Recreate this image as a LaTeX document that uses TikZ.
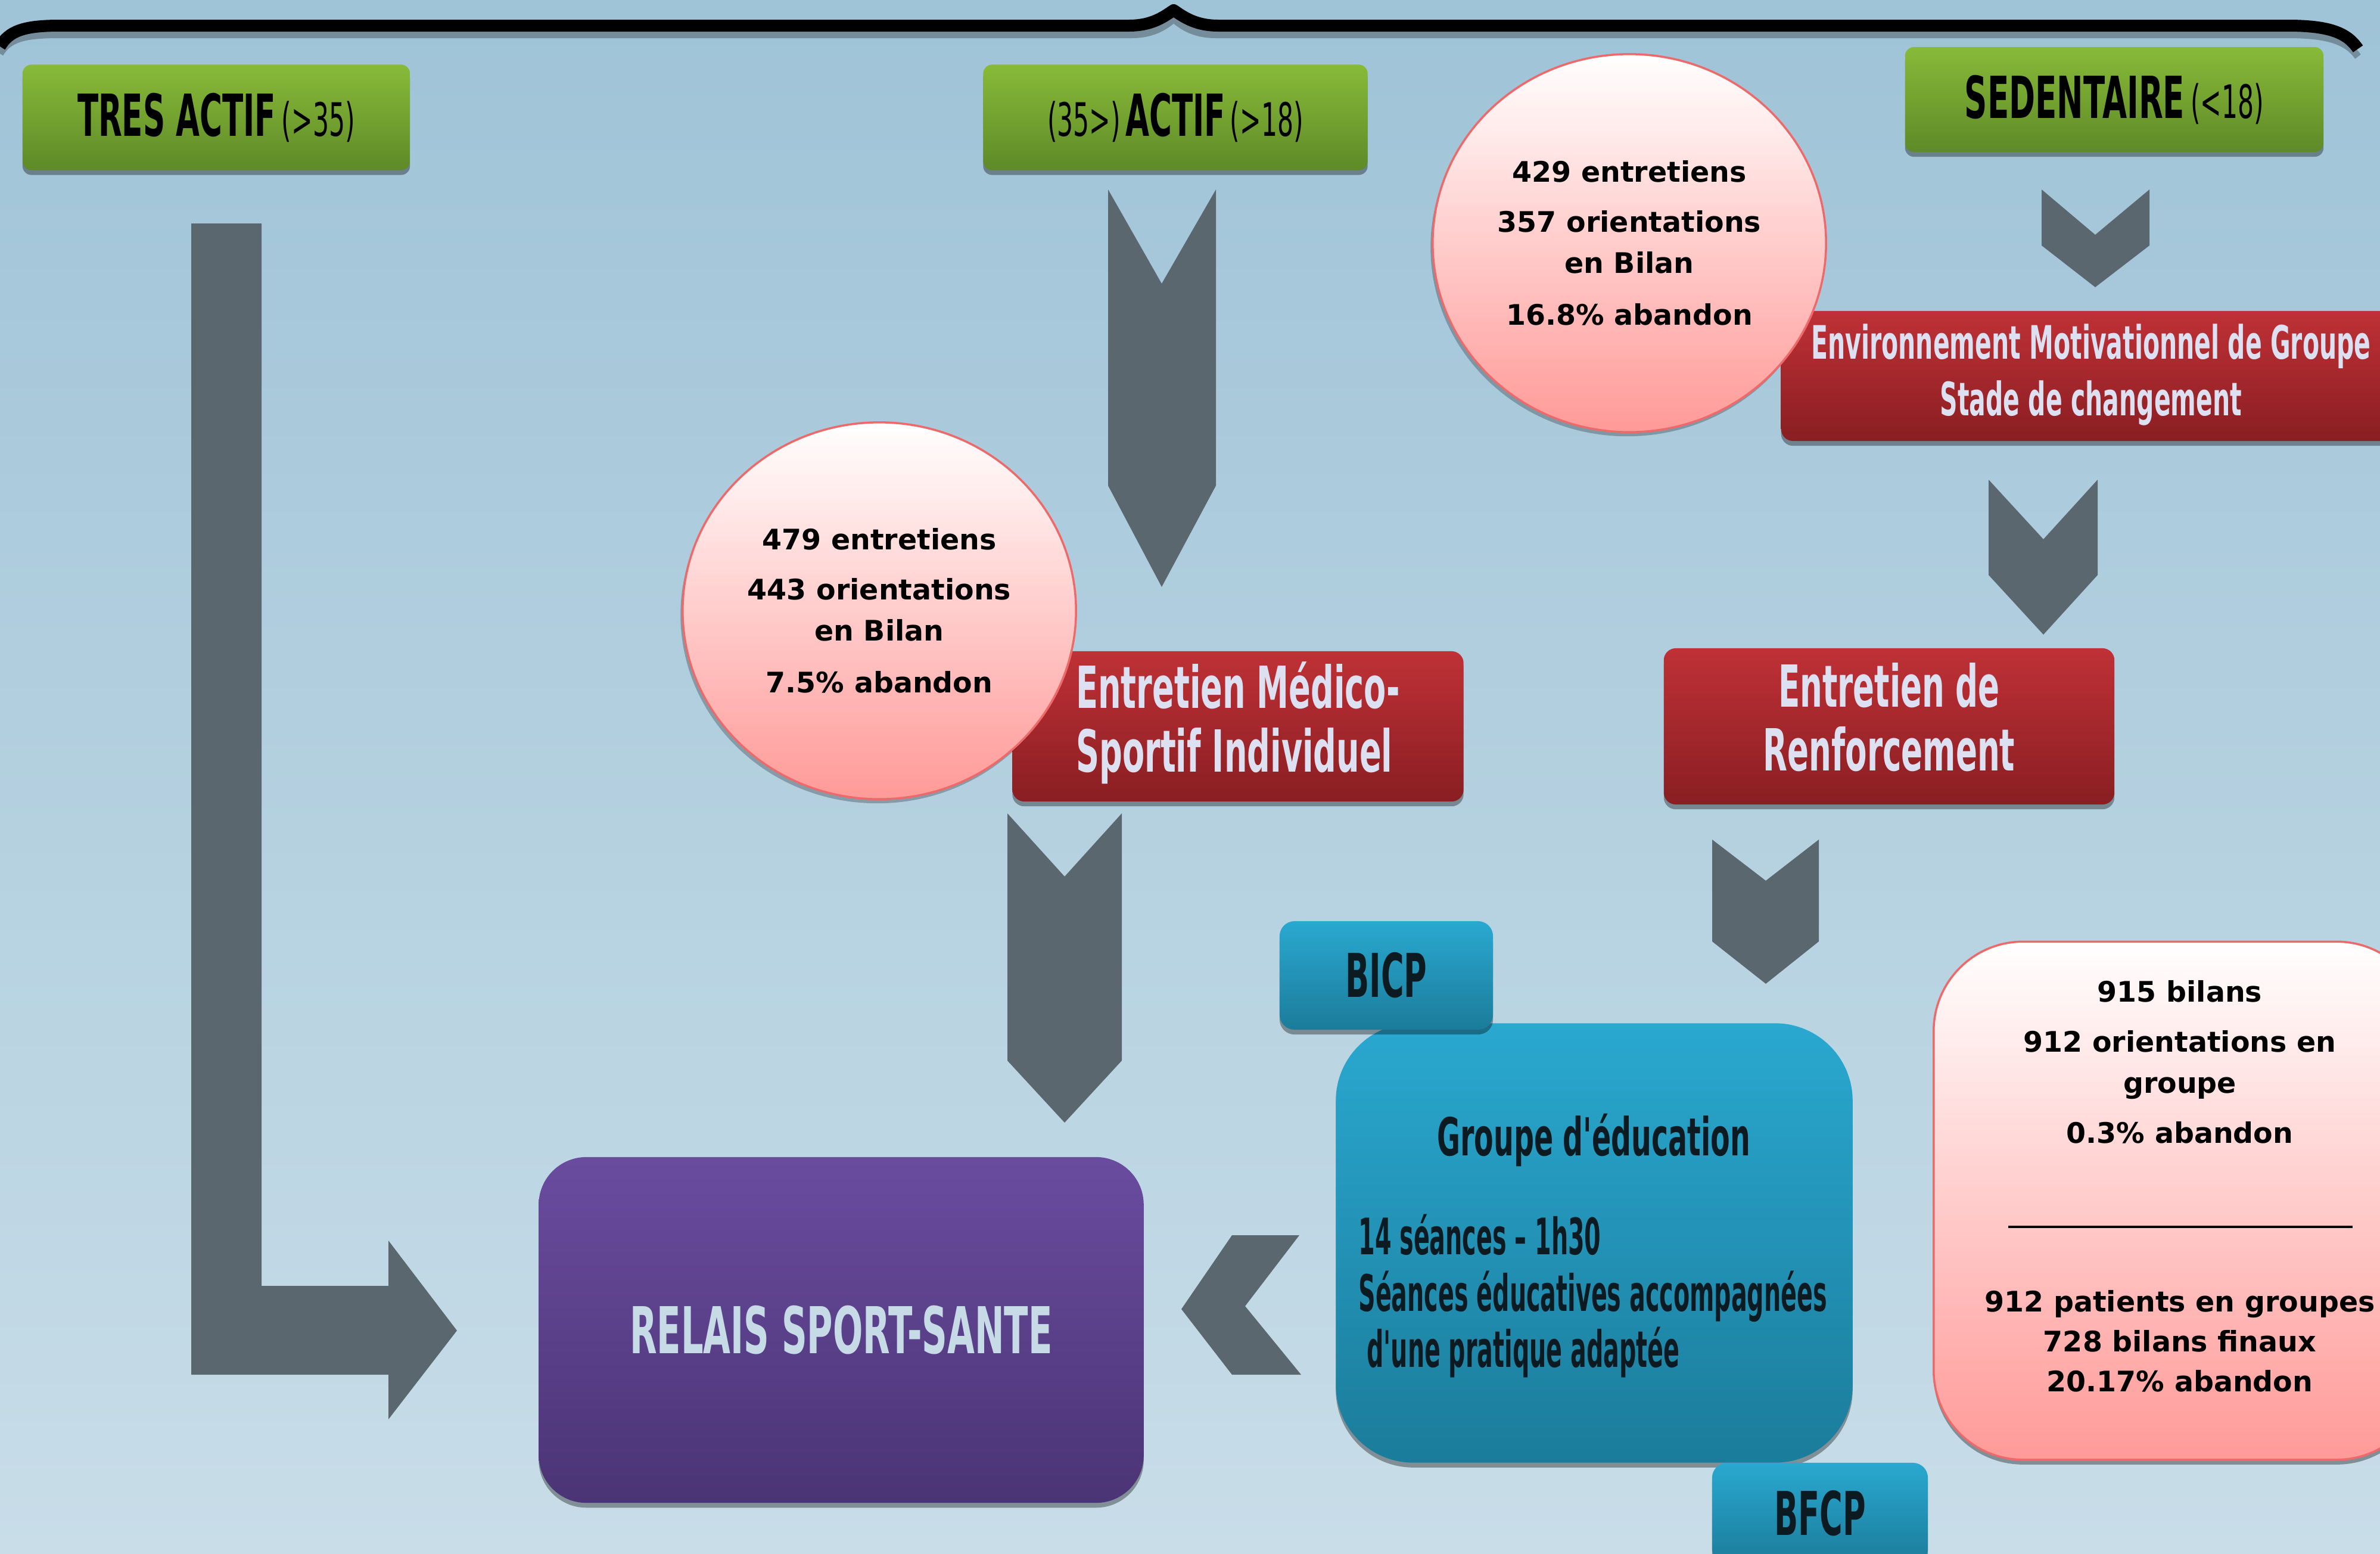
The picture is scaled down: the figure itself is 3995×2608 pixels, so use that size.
\documentclass[tikz,border=0pt]{standalone}
\usepackage{fontspec}
\usepackage{graphicx}
\setmainfont{DejaVu Sans}
\usetikzlibrary{shapes.geometric,shadows}
\definecolor{bgtop}{HTML}{9FC3D7}
\definecolor{bgbot}{HTML}{C8DDE8}
\definecolor{grtop}{HTML}{88BA38}
\definecolor{grbot}{HTML}{5E8A28}
\definecolor{rdtop}{HTML}{BF3136}
\definecolor{rdbot}{HTML}{891E22}
\definecolor{bltop}{HTML}{2AA8D0}
\definecolor{blbot}{HTML}{1B7C9B}
\definecolor{pptop}{HTML}{6A4C9F}
\definecolor{ppbot}{HTML}{4B3475}
\definecolor{pkbot}{HTML}{FF9A98}
\definecolor{pkline}{HTML}{EE6A6A}
\definecolor{arrc}{HTML}{5A676F}
\definecolor{lavtxt}{HTML}{DDE0F0}
\definecolor{pptxt}{HTML}{C6DBE6}
\definecolor{darktxt}{HTML}{0C1A22}
\definecolor{braceshadow}{HTML}{6B7F8B}
\newcommand{\cnd}[4]{\scalebox{#3}[1]{\fontsize{#1}{#2}\selectfont\bfseries #4}}
\newcommand{\cnm}[4]{\scalebox{#3}[1]{\fontsize{#1}{#2}\selectfont #4}}
\tikzset{
  shd/.style={drop shadow={shadow xshift=0pt,shadow yshift=-2.3pt,opacity=.35,fill=black}},
  greenbox/.style={shd,rectangle,rounded corners=0.15cm,top color=grtop,bottom color=grbot,inner sep=0pt,text=black},
  redbox/.style={shd,rectangle,rounded corners=0.2cm,top color=rdtop,bottom color=rdbot,inner sep=0pt,text=lavtxt},
  bluebox/.style={shd,rectangle,rounded corners=0.25cm,top color=bltop,bottom color=blbot,inner sep=0pt,text=darktxt},
  pinkcirc/.style={drop shadow={shadow xshift=-1pt,shadow yshift=-2pt,opacity=.25,fill=black},ellipse,inner sep=0pt,top color=white,bottom color=pkbot,draw=pkline,line width=1pt,text=black,align=center,font=\fontsize{13.5}{19.6}\selectfont\bfseries},
  pinktxt/.style={align=center,text=black,font=\fontsize{13.5}{19.6}\selectfont\bfseries},
  arrowshape/.style={fill=arrc},
}
\begin{document}
\begin{tikzpicture}[x=0.01cm,y=-0.01cm]
\useasboundingbox (0,0) rectangle (3995,2608);
% background
\fill[top color=bgtop,bottom color=bgbot] (0,0) rectangle (3995,2608);
% brace
\draw[braceshadow,line width=0.12cm,opacity=.8] (0,90) .. controls (15,65) and (40,58) .. (100,58) -- (1900,58) .. controls (1940,58) and (1960,40) .. (1970,32) .. controls (1980,40) and (2000,58) .. (2040,58) -- (3840,58) .. controls (3910,58) and (3940,70) .. (3958,95);
\draw[black,line width=0.2cm,line join=round] (0,78) .. controls (15,52) and (40,43) .. (100,43) -- (1895,43) .. controls (1935,43) and (1955,27) .. (1970,17) .. controls (1985,27) and (2005,43) .. (2045,43) -- (3840,43) .. controls (3910,43) and (3940,55) .. (3958,82);
% arrows
\fill[arrowshape] (321,375) -- (439,375) -- (439,2158) -- (652,2158) -- (652,2082) -- (767,2233) -- (652,2382) -- (652,2307) -- (321,2307) -- cycle;
\fill[arrowshape] (1860,318) -- (1950,476) -- (2041,318) -- (2041,815) -- (1950,985) -- (1860,815) -- cycle;
\fill[arrowshape] (3427,318) -- (3517,394) -- (3608,318) -- (3608,412) -- (3517,482) -- (3427,412) -- cycle;
\fill[arrowshape] (3338,805) -- (3430,905) -- (3521,805) -- (3521,965) -- (3430,1065) -- (3338,965) -- cycle;
\fill[arrowshape] (1691,1365) -- (1787,1471) -- (1883,1365) -- (1883,1780) -- (1787,1884) -- (1691,1780) -- cycle;
\fill[arrowshape] (2874,1409) -- (2964,1478) -- (3053,1409) -- (3053,1580) -- (2964,1651) -- (2874,1580) -- cycle;
\fill[arrowshape] (1983,2197) -- (2068,2073) -- (2181,2073) -- (2090,2192) -- (2184,2307) -- (2068,2307) -- cycle;
% green boxes
\node[greenbox,minimum width=6.5cm,minimum height=1.77cm] (tres) at (363,197)
  {\cnd{27.7}{30}{0.53}{TRES ACTIF}\hspace{0.1cm}\cnm{22}{24}{0.55}{(>35)}};
\node[greenbox,minimum width=6.45cm,minimum height=1.77cm] (actif) at (1973,197)
  {\cnm{22}{24}{0.55}{(35>)}\hspace{0.08cm}\cnd{27.7}{30}{0.53}{ACTIF}\hspace{0.08cm}\cnm{22}{24}{0.55}{(>18)}};
\node[greenbox,minimum width=7.02cm,minimum height=1.76cm] (sed) at (3549,167)
  {\raisebox{-0.05cm}{\cnd{27.7}{30}{0.545}{SEDENTAIRE}\hspace{0.1cm}\cnm{22}{24}{0.55}{(<18)}}};
% red boxes
\node[redbox,minimum width=10.4cm,minimum height=2.18cm] (env) at (3510,631)
  {\cnd{22}{27}{0.53}{\begin{tabular}{@{}c@{}}Environnement Motivationnel de Groupe\\Stade de changement\end{tabular}}};
\node[redbox,minimum width=7.57cm,minimum height=2.52cm] (ems) at (2078,1219)
  {\cnd{27.7}{30.4}{0.556}{\begin{tabular}{@{}l@{}}Entretien Médico-\\Sportif Individuel\end{tabular}}};
\node[redbox,minimum width=7.56cm,minimum height=2.62cm] (renf) at (3171,1219)
  {\cnd{27.7}{30.4}{0.545}{\begin{tabular}{@{}c@{}}Entretien de\\Renforcement\end{tabular}}};
% circles
\node[pinkcirc,minimum width=6.6cm,minimum height=6.32cm] (c1) at (1476,1025)
  {479 entretiens\\[4.3pt]443 orientations\\en Bilan\\[5.1pt]7.5\% abandon};
\node[pinkcirc,minimum width=6.6cm,minimum height=6.34cm] (c2) at (2735,408)
  {429 entretiens\\[4.3pt]357 orientations\\en Bilan\\[5.1pt]16.8\% abandon};
% blue boxes
\node[bluebox,rounded corners=1.3cm,minimum width=8.67cm,minimum height=7.37cm] (grp) at (2676,2086) {};
\node[bluebox,minimum width=3.58cm,minimum height=1.82cm] (bicp) at (2327,1637) {\cnd{28.8}{30}{0.52}{BICP}};
\node[bluebox,minimum width=3.62cm,minimum height=1.7cm] (bfcp) at (3055,2540) {\cnd{28.8}{30}{0.52}{BFCP}};
\node[text=darktxt] (grpt) at (2675,1913) {\cnd{25}{25}{0.54}{Groupe d\textquotesingle éducation}};
\node[text=darktxt,anchor=west] (grpb) at (2268,2180)
  {\cnd{24}{25.5}{0.47}{\begin{tabular}{@{}l@{}}14 séances – 1h30\\Séances éducatives accompagnées\\\ d\textquotesingle une pratique adaptée\end{tabular}}};
% purple box
\node[shd,rectangle,rounded corners=0.8cm,top color=pptop,bottom color=ppbot,minimum width=10.15cm,minimum height=5.8cm,inner sep=0pt,text=pptxt] (relais) at (1412,2232)
  {\cnd{30.8}{32}{0.547}{RELAIS SPORT-SANTE}};
% pink rounded rectangle
\node[shd,rectangle,rounded corners=1.5cm,top color=white,bottom color=pkbot,draw=pkline,line width=1pt,minimum width=8.26cm,minimum height=8.69cm,inner sep=0pt] (stats) at (3659,2015) {};
\node[pinktxt] (st1) at (3659,1782) {915 bilans\\[4.3pt]912 orientations en\\groupe\\[4.3pt]0.3\% abandon};
\coordinate (ruleL) at (3371,2059);
\coordinate (ruleR) at (3949,2059);
\draw[black,line width=1.3pt] (ruleL) -- (ruleR);
\node[pinktxt,font=\fontsize{13.5}{19}\selectfont\bfseries] (st2) at (3659,2251) {912 patients en groupes\\728 bilans finaux\\20.17\% abandon};
\end{tikzpicture}
\end{document}
